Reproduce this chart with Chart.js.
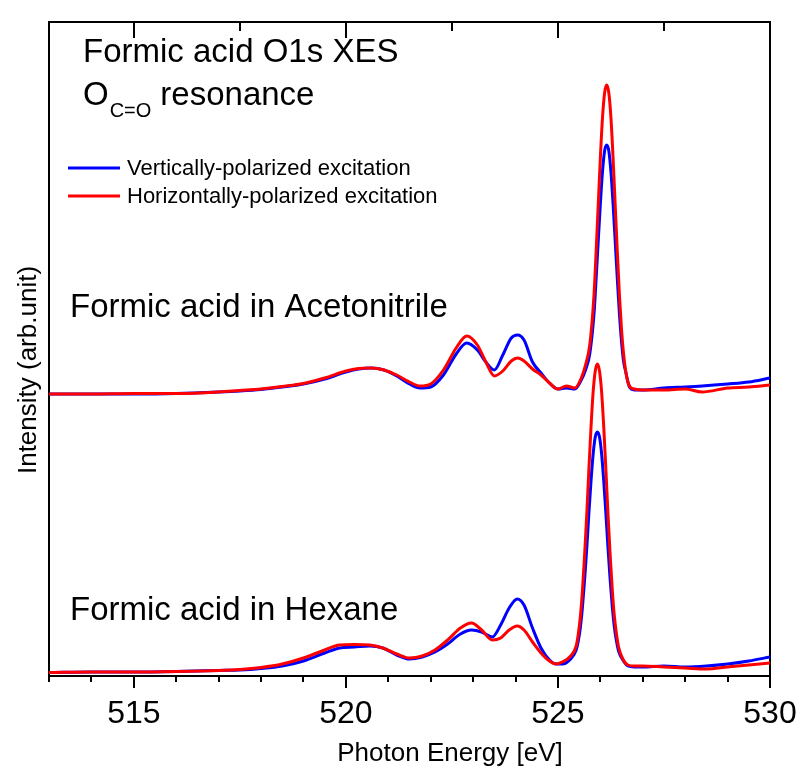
<!DOCTYPE html>
<html><head><meta charset="utf-8">
<script src="https://cdn.jsdelivr.net/npm/chart.js@4.4.1/dist/chart.umd.min.js"></script>
<style>html,body{margin:0;padding:0;background:#fff;}canvas{display:block;}</style>
</head><body>
<canvas id="c" width="802" height="769" style="width:802px;height:769px"></canvas>
<script>
// ---- data (intensity in arbitrary units) ----
const energyAcn = [513,514,515,516,517,517.5,518,518.5,519,519.5,520,520.3,520.6,520.9,521.2,521.5,521.75,522,522.3,522.6,522.85,523.1,523.3,523.5,523.7,523.9,524.05,524.2,524.4,524.6,524.8,525,525.2,525.4,525.55,525.65,525.75,525.85,525.9,525.95,526,526.05,526.1,526.15,526.2,526.25,526.3,526.35,526.4,526.45,526.5,526.55,526.6,526.65,526.7,526.8,527,527.5,528,528.4,529,529.5,530];
const acnVertical = [28.2,28.2,28.2,28.25,28.4,28.5,28.65,28.9,29.2,29.7,30.4,30.7,30.8,30.6,30.0,29.2,28.8,28.9,30.1,32.2,33.3,32.6,31.4,30.6,32.1,33.8,34.1,33.6,31.4,30.3,29.3,28.7,28.8,28.7,29.6,30.6,32.2,36.2,39.7,43.5,47.2,50.4,52.5,53.1,52.5,50.4,47.2,43.5,39.7,36.2,33.4,31.4,30.4,29.4,28.8,28.6,28.6,28.8,28.9,29.0,29.2,29.4,29.8];
const acnHorizontal = [28.2,28.2,28.25,28.25,28.4,28.55,28.7,28.95,29.25,29.8,30.5,30.75,30.8,30.6,30.1,29.4,29.0,29.2,30.6,32.8,34.0,33.1,31.4,30.0,30.5,31.5,31.8,31.5,30.7,30.1,29.3,28.7,29.0,28.8,29.8,31.1,33.1,38.1,42.4,47.1,51.8,55.8,58.3,59.1,58.3,55.8,51.8,47.1,42.4,38.1,34.6,32.1,30.4,29.4,28.9,28.7,28.6,28.6,28.7,28.4,28.8,28.9,29.1];

const energyHex = [513,514,515,516,517,517.5,518,518.5,519,519.5,519.85,520.2,520.56,520.87,521.2,521.5,521.8,522.1,522.4,522.7,522.96,523.2,523.45,523.65,523.85,524.04,524.2,524.4,524.6,524.8,524.96,525.1,525.3,525.43,525.48,525.53,525.58,525.63,525.68,525.73,525.78,525.83,525.88,525.93,525.98,526.03,526.08,526.13,526.18,526.23,526.28,526.33,526.38,526.43,526.53,526.65,526.8,527,527.5,528,528.5,529,529.5,530];
const hexVertical = [0.35,0.4,0.4,0.45,0.55,0.6,0.75,1.0,1.5,2.3,2.8,2.9,3.0,2.8,2.1,1.7,1.9,2.4,3.2,4.2,4.6,4.4,3.9,5.1,6.8,7.7,7.1,4.8,2.8,1.6,1.2,1.2,1.7,2.6,3.5,4.9,7.0,9.7,12.8,16.3,19.5,22.2,23.9,24.4,23.9,22.2,19.5,16.3,12.8,9.7,7.0,4.9,3.5,2.5,1.6,1.0,0.9,0.9,1.0,0.9,1.0,1.2,1.5,1.9];
const hexHorizontal = [0.35,0.4,0.4,0.45,0.55,0.65,0.85,1.2,1.8,2.6,3.1,3.15,3.1,2.8,2.2,1.8,2.0,2.6,3.6,4.8,5.3,4.6,3.6,3.8,4.6,5.0,4.6,3.4,2.3,1.5,1.2,1.4,2.0,3.0,4.2,6.0,8.7,12.2,16.2,20.7,24.9,28.4,30.5,31.2,30.5,28.4,24.9,20.7,16.2,12.2,8.7,6.0,4.2,2.9,1.7,1.1,1.0,1.0,0.9,0.8,0.7,0.9,1.1,1.3];

const xTickLabels = ['515','520','525','530'];
const seriesNames = ['Vertically-polarized excitation','Horizontally-polarized excitation'];
const sampleLabels = ['Formic acid in Acetonitrile','Formic acid in Hexane'];
const titleLines = ['Formic acid O1s XES','O','C=O','resonance'];
const axisTitles = ['Photon Energy [eV]','Intensity (arb.unit)'];

// ---- chart ----
const BLUE = '#0000ff', RED = '#ff0000';
const FONT = '"Liberation Sans", Arial, sans-serif';
const X_MIN = 513, X_MAX = 530, Y_MIN = 0, Y_MAX = 65.4;

function pts(xs, ys) { return xs.map((x, i) => ({x: x, y: ys[i]})); }
function line(label, xs, ys, color, order) {
  return {label: label, data: pts(xs, ys), borderColor: color, backgroundColor: color,
          borderWidth: 3, pointRadius: 0, fill: false, order: order,
          cubicInterpolationMode: 'monotone', borderJoinStyle: 'round'};
}

const annotations = {
  id: 'annotations',
  afterDraw(chart) {
    const ctx = chart.ctx;
    ctx.save();
    ctx.fillStyle = '#000';
    ctx.textAlign = 'left';
    ctx.textBaseline = 'alphabetic';
    // title block
    ctx.font = '33px ' + FONT;
    ctx.fillText(titleLines[0], 83, 62);
    ctx.fillText(titleLines[1], 83, 105);
    const oW = ctx.measureText(titleLines[1]).width;
    ctx.font = '20px ' + FONT;
    ctx.fillText(titleLines[2], 83 + oW + 1, 117);
    const sW = ctx.measureText(titleLines[2]).width;
    ctx.font = '33px ' + FONT;
    ctx.fillText(titleLines[3], 83 + oW + 1 + sW + 9, 105);
    // legend
    const legendColors = [BLUE, RED];
    const legendY = [168, 196];
    ctx.font = '22px ' + FONT;
    ctx.textBaseline = 'middle';
    for (let i = 0; i < 2; i++) {
      ctx.strokeStyle = legendColors[i];
      ctx.lineWidth = 3;
      ctx.beginPath();
      ctx.moveTo(68, legendY[i]);
      ctx.lineTo(120, legendY[i]);
      ctx.stroke();
      ctx.fillText(seriesNames[i], 127, legendY[i] + 1);
    }
    // sample labels
    ctx.textBaseline = 'alphabetic';
    ctx.font = '33px ' + FONT;
    ctx.fillText(sampleLabels[0], 70, 317);
    ctx.fillText(sampleLabels[1], 70, 620);
    // axis titles
    ctx.font = '26px ' + FONT;
    ctx.textAlign = 'center';
    ctx.fillText(axisTitles[0], 450, 761);
    ctx.translate(36, 370);
    ctx.rotate(-Math.PI / 2);
    ctx.fillText(axisTitles[1], 0, 0);
    ctx.restore();
  }
};

const gridBase = {display: true, drawOnChartArea: false, color: '#000', lineWidth: 2};
function fixH(h) { return s => { s.height = h; s.paddingLeft = 0; s.paddingRight = 0; }; }

new Chart(document.getElementById('c'), {
  type: 'line',
  data: {
    datasets: [
      line(seriesNames[0] + ' / ' + sampleLabels[0], energyAcn, acnVertical, BLUE, 2),
      line(seriesNames[1] + ' / ' + sampleLabels[0], energyAcn, acnHorizontal, RED, 1),
      line(seriesNames[0] + ' / ' + sampleLabels[1], energyHex, hexVertical, BLUE, 2),
      line(seriesNames[1] + ' / ' + sampleLabels[1], energyHex, hexHorizontal, RED, 1)
    ]
  },
  options: {
    responsive: false,
    devicePixelRatio: 1,
    animation: false,
    events: [],
    layout: {padding: 0, autoPadding: false},
    plugins: {legend: {display: false}, tooltip: {enabled: false}},
    scales: {
      x: {
        type: 'linear', position: 'bottom', min: X_MIN, max: X_MAX, weight: 1,
        ticks: {stepSize: 1, autoSkip: false, maxRotation: 0, minRotation: 0, padding: 13,
                color: '#000', font: {family: FONT, size: 32},
                callback: function (v) {
                  const s = String(Math.round(v));
                  return (Math.abs(v - Math.round(v)) < 1e-6 && xTickLabels.includes(s)) ? s : '';
                }},
        grid: Object.assign({}, gridBase, {tickLength: 6}),
        border: {display: true, color: '#000', width: 2},
        afterFit: fixH(93)
      },
      xMajor: {
        type: 'linear', position: 'bottom', min: X_MIN, max: X_MAX, weight: 0,
        ticks: {stepSize: 5, display: false, includeBounds: false},
        grid: Object.assign({}, gridBase, {tickLength: 12}),
        border: {display: false},
        afterFit: fixH(0)
      },
      xTop: {
        type: 'linear', position: 'top', min: X_MIN, max: X_MAX, weight: 0,
        ticks: {stepSize: 2.5, display: false, includeBounds: false},
        grid: Object.assign({}, gridBase, {tickLength: -9}),
        border: {display: true, color: '#000', width: 2},
        afterFit: fixH(0)
      },
      xTopMajor: {
        type: 'linear', position: 'top', min: X_MIN, max: X_MAX, weight: 1,
        ticks: {stepSize: 5, display: false, includeBounds: false},
        grid: Object.assign({}, gridBase, {tickLength: -16}),
        border: {display: false},
        afterFit: fixH(22)
      },
      y: {
        type: 'linear', position: 'left', min: Y_MIN, max: Y_MAX,
        ticks: {display: false},
        grid: {display: true, drawOnChartArea: false, drawTicks: false},
        border: {display: true, color: '#000', width: 2},
        afterFit: s => { s.width = 49; s.paddingTop = 0; s.paddingBottom = 0; }
      },
      yRight: {
        type: 'linear', position: 'right', min: Y_MIN, max: Y_MAX,
        ticks: {display: false},
        grid: {display: true, drawOnChartArea: false, drawTicks: false},
        border: {display: true, color: '#000', width: 2},
        afterFit: s => { s.width = 32; s.paddingTop = 0; s.paddingBottom = 0; }
      }
    }
  },
  plugins: [annotations]
});
</script>
</body></html>
